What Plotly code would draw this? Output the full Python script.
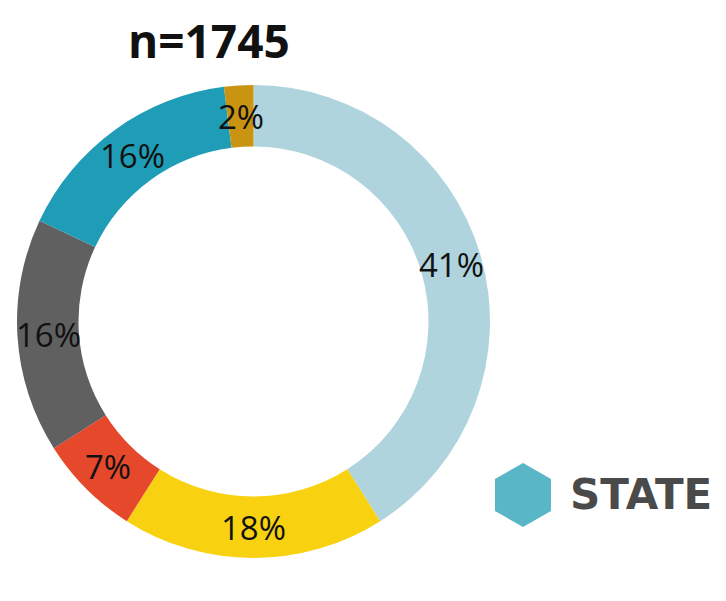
import math

import plotly.graph_objects as go

# Share of respondents, clockwise from 12 o'clock
labels = ["Segment A", "Segment B", "Segment C", "Segment D", "Segment E", "Segment F"]
shares = [41, 18, 7, 16, 16, 2]
colors = ["#b0d4de", "#f8d210", "#e6482b", "#606060", "#1f9db7", "#c99412"]

title_text = "n=1745"
logo_text = "STATE"

W, H = 726, 601
# pie domain in paper fractions (page body adds an 8px offset)
dom_x = [0.0124, 0.6639]
dom_y = [0.0849, 0.8719]
hole = 0.74

fig = go.Figure(
    go.Pie(
        labels=labels,
        values=shares,
        hole=hole,
        sort=False,
        direction="clockwise",
        rotation=0,
        marker=dict(colors=colors, line=dict(width=0)),
        textinfo="none",
        hovertemplate="%{label}: %{value}%<extra></extra>",
        domain=dict(x=dom_x, y=dom_y),
        showlegend=False,
    )
)

# percentage labels at the middle of each slice's ring section
cx = (dom_x[0] + dom_x[1]) / 2 * W
cy = (dom_y[0] + dom_y[1]) / 2 * H
r_out = (dom_x[1] - dom_x[0]) * W / 2
r_mid = r_out * (1 + hole) / 2
total = sum(shares)
cum = 0
for s in shares:
    ang = math.radians((cum + s / 2) / total * 360)
    cum += s
    px = cx + r_mid * math.sin(ang)
    py = cy + r_mid * math.cos(ang)
    fig.add_annotation(
        text=f"{s}%",
        xref="paper", yref="paper",
        x=px / W, y=py / H,
        xanchor="center", yanchor="middle",
        showarrow=False,
        font=dict(family="Open Sans", size=33, color="#111111"),
    )

# teal hexagon of the logo
fig.add_shape(
    type="path",
    xref="paper", yref="paper",
    path="M 0.7094 0.2429 L 0.7479 0.2163 L 0.7479 0.1631 L 0.7094 0.1364 "
         "L 0.6708 0.1631 L 0.6708 0.2163 Z",
    fillcolor="#59b6c6",
    line=dict(width=0),
)

fig.add_annotation(
    text=f"<b>{logo_text}</b>",
    xref="paper", yref="paper",
    x=0.7713, y=0.1897,
    xanchor="left", yanchor="middle",
    showarrow=False,
    font=dict(family="DejaVu Sans", size=42, color="#4a4a4a"),
)

fig.add_annotation(
    text=f"<b>{title_text}</b>",
    xref="paper", yref="paper",
    x=0.2769, y=0.9468,
    xanchor="center", yanchor="middle",
    showarrow=False,
    font=dict(family="Open Sans", size=46, color="#111111"),
)

fig.update_layout(
    width=W,
    height=H,
    margin=dict(l=0, r=0, t=0, b=0),
    paper_bgcolor="white",
    plot_bgcolor="white",
)

fig.write_html("out.html")
